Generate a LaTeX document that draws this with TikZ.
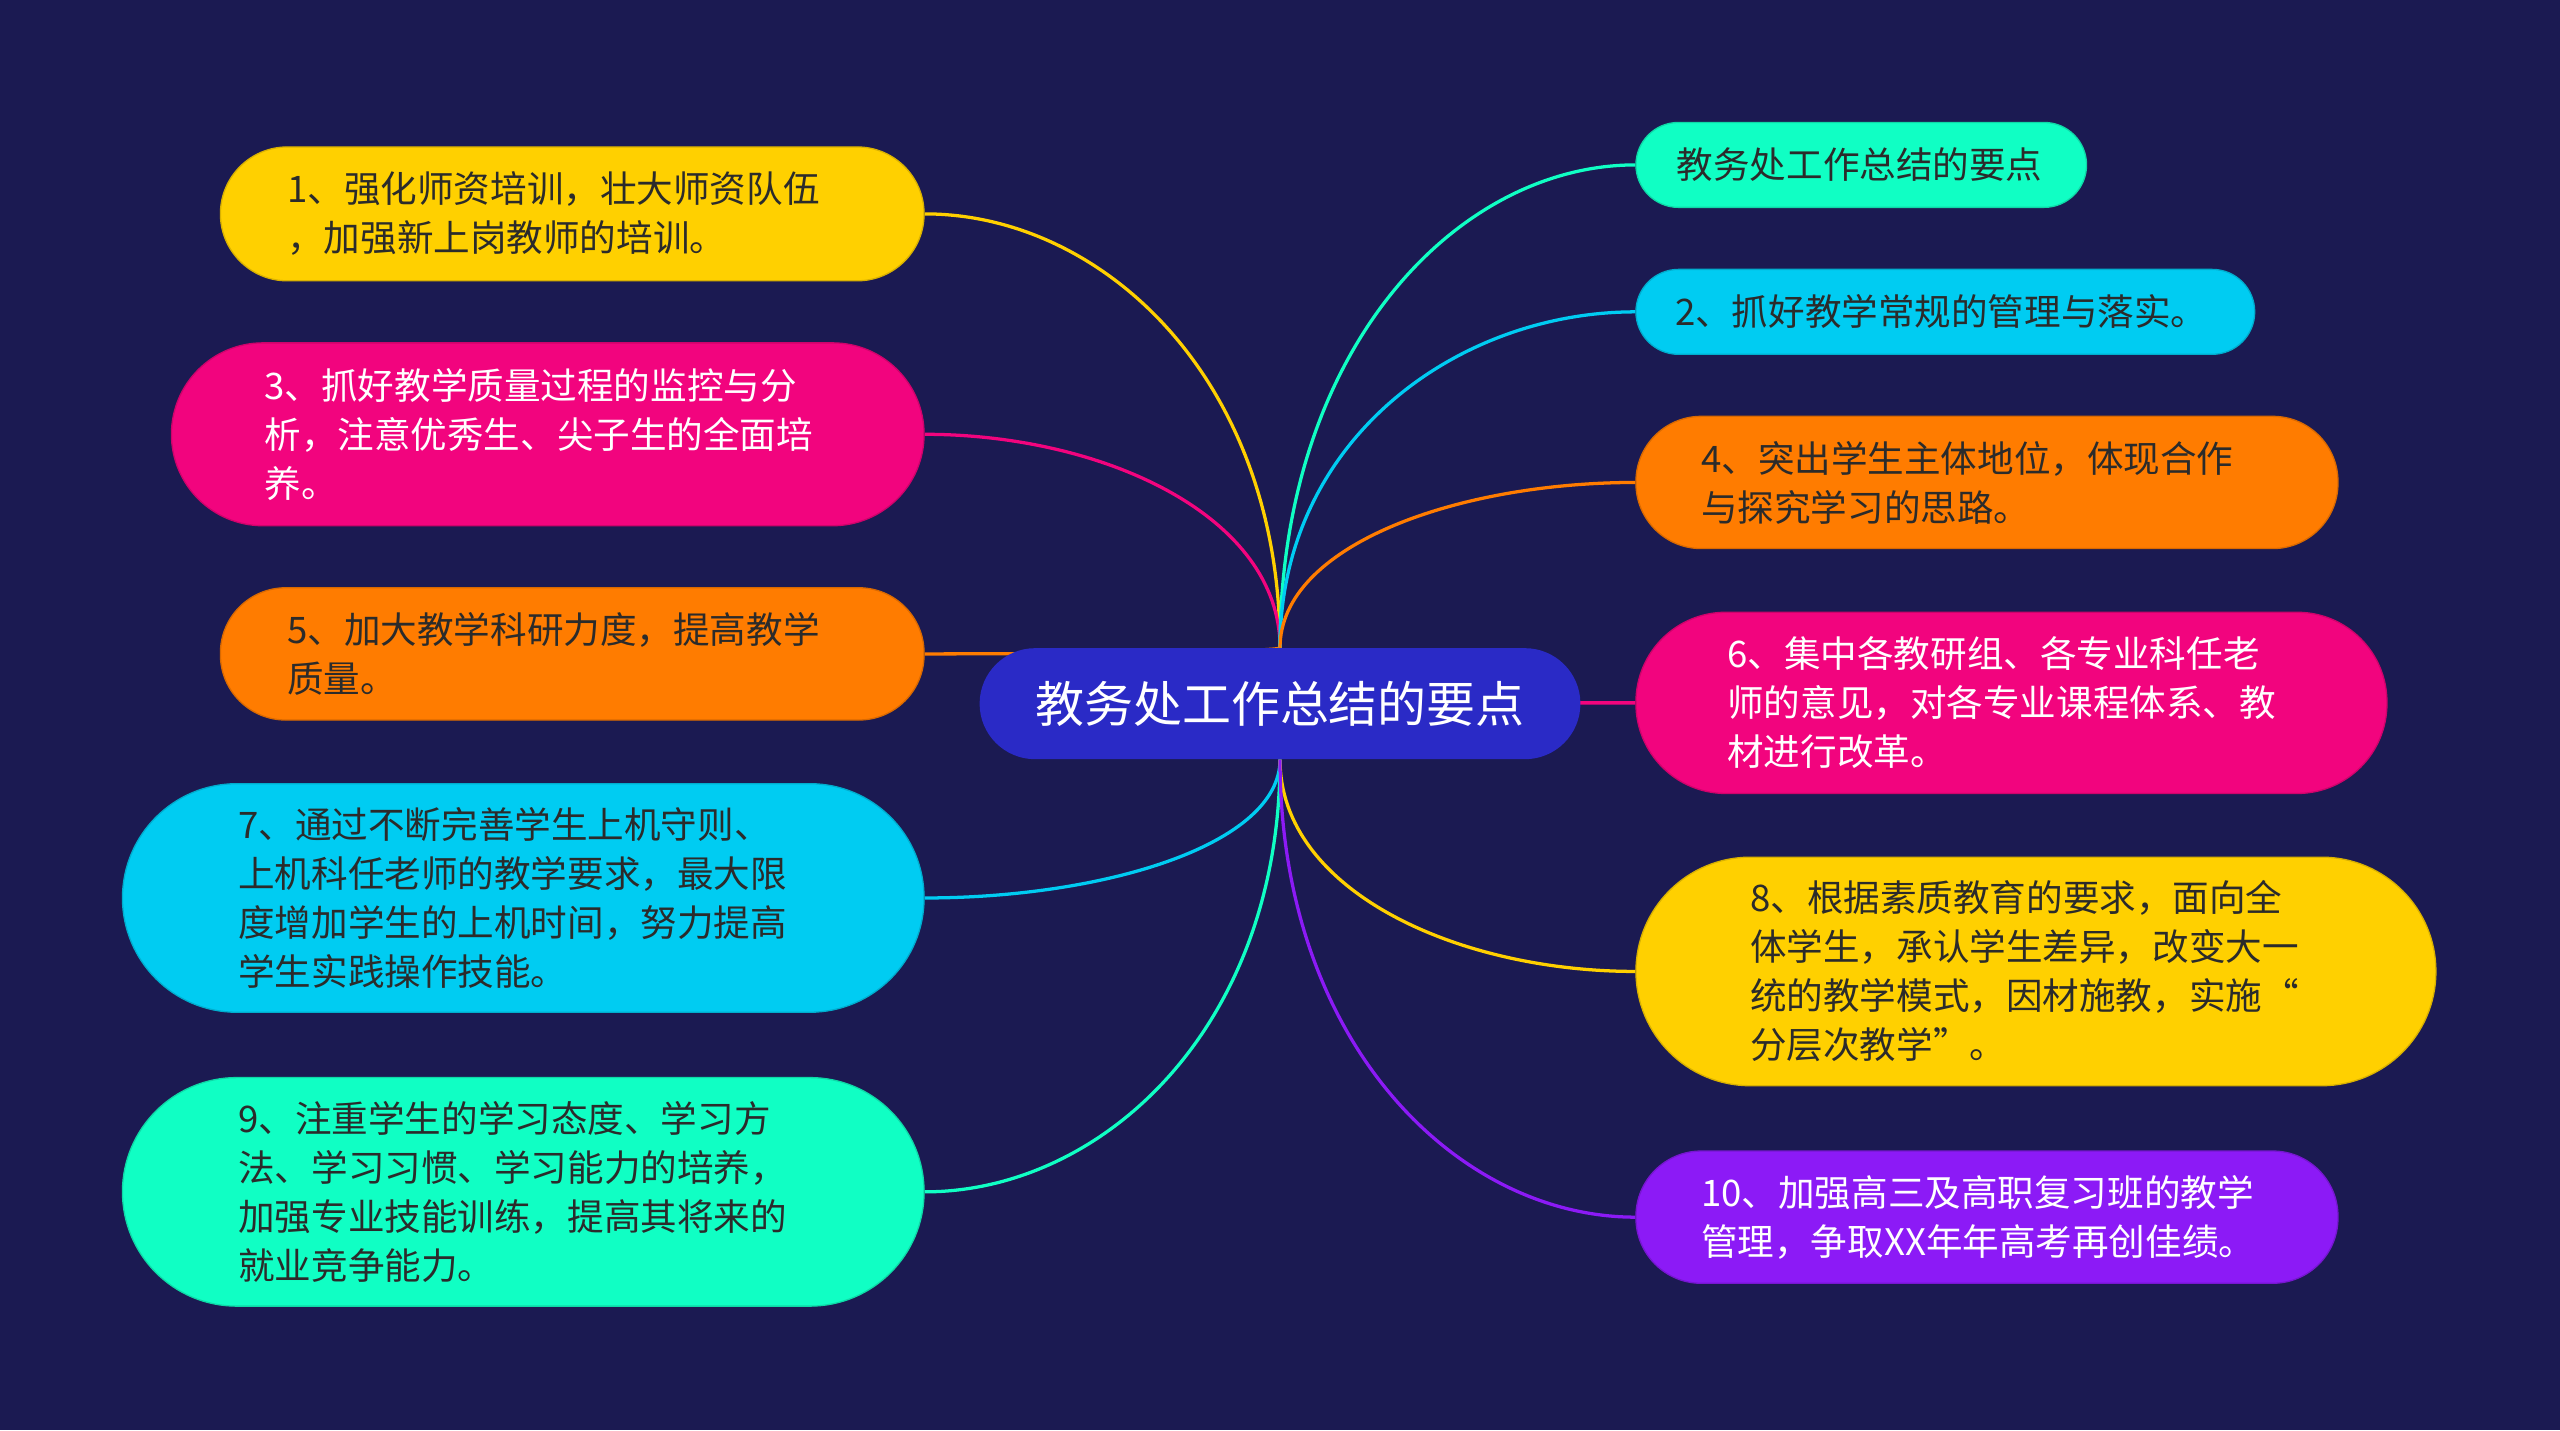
\documentclass[tikz,border=0pt]{standalone}
\usepackage{fontspec}
\setmainfont{Noto Sans CJK SC}
\usetikzlibrary{calc}
\definecolor{bgc}{HTML}{1B1A52}
\definecolor{rootc}{HTML}{2A2AC6}
\definecolor{cY}{HTML}{FFD000}
\definecolor{cP}{HTML}{F2047E}
\definecolor{cO}{HTML}{FF7C00}
\definecolor{cC}{HTML}{00CCF2}
\definecolor{cG}{HTML}{10FFC4}
\definecolor{cV}{HTML}{8C1AF6}
\definecolor{dtext}{HTML}{2B2B2B}
\pgfdeclarelayer{back}
\pgfdeclarelayer{edges}
\pgfsetlayers{back,edges,main}
\newcommand\mmedge[3]{\draw[conn,#1] (#2) .. controls ($(#2)!0.62!(#2 |- #3)$) and ($(#3)!0.5!(#2 |- #3)$) .. (#3);}
\begin{document}
\begin{tikzpicture}[x=1pt,y=-1pt,
  pill/.style n args={5}{rectangle, minimum width=#1pt, minimum height=#2pt, rounded corners=#3pt, inner xsep=#4pt, text width=#5pt, inner ysep=0pt, align=left, font=\fontsize{22.4}{30}\selectfont},
  dark/.style={fill=#1, draw=#1!85!black, line width=0.8pt, text=dtext},
  light/.style={fill=#1, draw=#1!85!black, line width=0.8pt, text=white},
  conn/.style={line width=2pt}]
\begin{pgfonlayer}{back}
\fill[bgc] (0,0) rectangle (1568,876);
\end{pgfonlayer}
\useasboundingbox (0,0) rectangle (1568,876);

\node[rectangle, rounded corners=34pt, minimum width=368pt, minimum height=68pt, fill=rootc, text=white, font=\fontsize{30}{36}\selectfont, inner sep=0pt] (root) at (784,431) {教务处工作总结的要点};

% left
\node[pill={431}{82}{41}{41}{349}, dark=cY] (n1) at (350.5,131) {1、强化师资培训，壮大师资队伍\\，加强新上岗教师的培训。};
\node[pill={461}{112}{56}{57}{347}, light=cP] (n3) at (335.5,266) {3、抓好教学质量过程的监控与分\\析，注意优秀生、尖子生的全面培\\养。};
\node[pill={431}{81}{40}{41}{349}, dark=cO] (n5) at (350.5,400.5) {5、加大教学科研力度，提高教学\\质量。};
\node[pill={491}{140}{70}{71}{349}, dark=cC] (n7) at (320.5,550) {7、通过不断完善学生上机守则、\\上机科任老师的教学要求，最大限\\度增加学生的上机时间，努力提高\\学生实践操作技能。};
\node[pill={491}{140}{70}{71}{349}, dark=cG] (n9) at (320.5,730) {9、注重学生的学习态度、学习方\\法、学习习惯、学习能力的培养，\\加强专业技能训练，提高其将来的\\就业竞争能力。};

% right
\node[pill={276}{52}{26}{25}{226}, dark=cG] (nt) at (1140,101) {教务处工作总结的要点};
\node[pill={379}{52}{26}{24}{331}, dark=cC] (n2) at (1191.5,191) {2、抓好教学常规的管理与落实。};
\node[pill={430}{81}{40}{40}{350}, dark=cO] (n4) at (1217,295.5) {4、突出学生主体地位，体现合作\\与探究学习的思路。};
\node[pill={460}{111}{55}{56}{348}, light=cP] (n6) at (1232,430.5) {6、集中各教研组、各专业科任老\\师的意见，对各专业课程体系、教\\材进行改革。};
\node[pill={490}{140}{70}{70}{350}, dark=cY] (n8) at (1247,595) {8、根据素质教育的要求，面向全\\体学生，承认学生差异，改变大一\\统的教学模式，因材施教，实施“\\分层次教学”。};
\node[pill={430}{81}{40}{40}{350}, light=cV] (n10) at (1217,745.5) {10、加强高三及高职复习班的教学\\管理，争取XX年年高考再创佳绩。};

\begin{pgfonlayer}{edges}
\mmedge{cY}{root.north}{n1.east}
\mmedge{cP}{root.north}{n3.east}
\mmedge{cO}{root.north}{n5.east}
\mmedge{cC}{root.south}{n7.east}
\mmedge{cG}{root.south}{n9.east}
\mmedge{cG}{root.north}{nt.west}
\mmedge{cC}{root.north}{n2.west}
\mmedge{cO}{root.north}{n4.west}
\mmedge{cP}{root.center}{n6.west}
\mmedge{cY}{root.south}{n8.west}
\mmedge{cV}{root.south}{n10.west}
\end{pgfonlayer}
\end{tikzpicture}
\end{document}
